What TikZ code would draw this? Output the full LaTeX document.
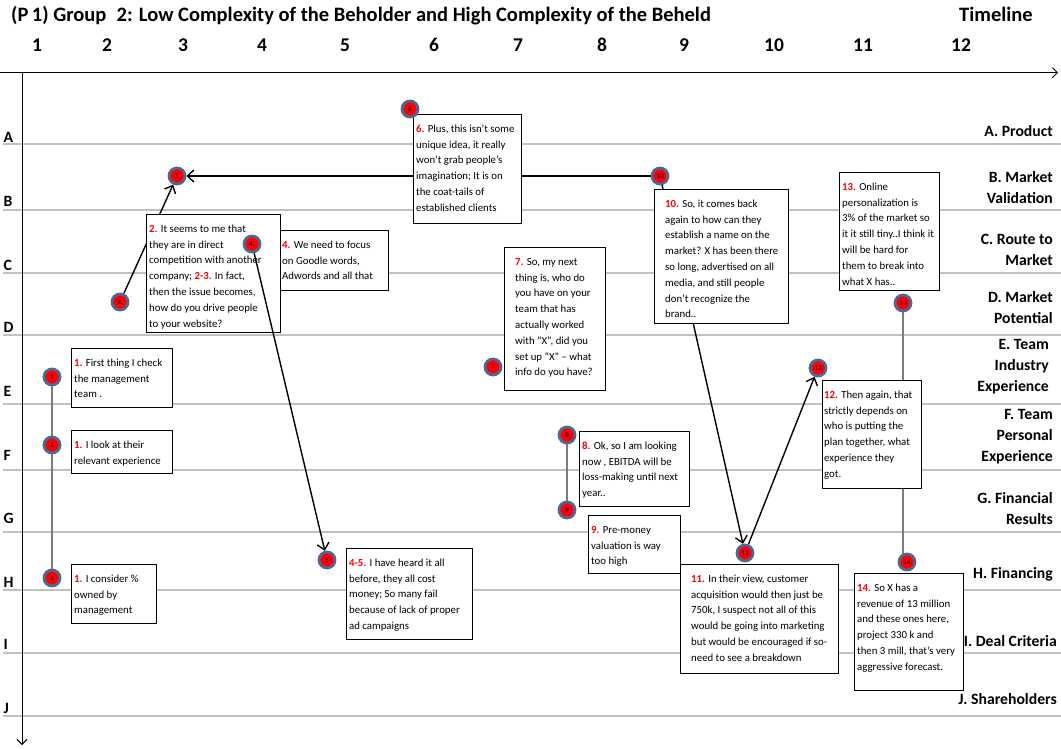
\documentclass[tikz,border=0pt]{standalone}
\usepackage{fontspec}
\setmainfont{Carlito}
\usetikzlibrary{arrows.meta}
\definecolor{ringblue}{RGB}{78,104,150}
\definecolor{rowgray}{RGB}{192,192,192}
\definecolor{linkgray}{RGB}{125,125,125}
\definecolor{numred}{RGB}{255,0,0}
\pgfdeclarelayer{bg}
\pgfdeclarelayer{rows}
\pgfdeclarelayer{boxes}
\pgfdeclarelayer{over}
\pgfsetlayers{bg,rows,boxes,over,main}
\newcommand{\rn}[1]{\textcolor{numred}{\bfseries #1}}
\newcommand{\tbox}[7]{%
  \node[tbx, minimum width=#4pt, minimum height=#5pt] (#1) at (#2,#3) {};
  \node[ttx] (#1t) at ([shift={(#6pt,-3pt)}]#1.north west) {\rule{0pt}{15pt}#7};}
\begin{document}
\begin{tikzpicture}[x=1pt,y=-1pt,
  tbx/.style={draw=black, line width=1.4pt, fill=white, anchor=north west, inner sep=0pt},
  ttx/.style={anchor=north west, align=left, inner sep=0pt, font=\fontsize{10.8}{15.8}\selectfont},
  dot/.style={circle, fill=numred, draw=ringblue, line width=2.8pt, minimum size=16pt, inner sep=0pt, font=\fontsize{7.5}{8}\selectfont},
  arr/.style={draw=black, line width=1.4pt, -{Straight Barb[length=6.5pt,width=12pt]}},
  link/.style={draw=linkgray, line width=1.3pt},
  rowline/.style={draw=rowgray, line width=1.5pt},
  axis/.style={draw=black, line width=0.9pt, -{Straight Barb[length=5pt,width=10pt]}},
  rowlbl/.style={anchor=west, font=\bfseries\fontsize{15.7}{18}\selectfont},
  catlbl/.style={anchor=east, align=right, inner sep=0pt, font=\bfseries\fontsize{15.7}{21}\selectfont},
  colnum/.style={anchor=base, font=\bfseries\fontsize{19.5}{20}\selectfont},
  ttl/.style={anchor=base west, inner sep=0pt, font=\bfseries\fontsize{20.5}{22}\selectfont}]
\useasboundingbox (0,0) rectangle (1061,748);
\begin{pgfonlayer}{bg}
\fill[white] (0,0) rectangle (1061,748);
\end{pgfonlayer}

% title and timeline
\node[ttl] (title) at (11,21) {(P\,1) Group\enspace 2: Low Complexity of the Beholder and High Complexity of the Beheld};
\node[ttl] (timeline) at (959,21) {Timeline};
\foreach \n/\x in {1/37,2/107,3/183,4/262,5/345,6/434,7/518,8/602,9/684,10/774,11/863,12/961}
  \node[colnum] (col\n) at (\x,51) {\n};

% axes
\coordinate (o) at (22,72.7);
\coordinate (hstart) at (0,72.7);
\coordinate (hend) at (1058,72.7);
\coordinate (vend) at (22,745);
\draw[axis] (hstart) -- (hend);
\draw[axis] (o) -- (vend);

% row letters
\foreach \l/\y in {A/137,B/201,C/265,D/327,E/391,F/455,G/518,H/582,I/644,J/708}
  \node[rowlbl] (row\l) at (0,\y) {\l};

% category labels
\node[catlbl] (catA) at (1053,131) {A. Product};
\node[catlbl] (catB) at (1053,188) {B. Market\\Validation};
\node[catlbl] (catC) at (1053,250) {C. Route to\\Market};
\node[catlbl] (catD) at (1053,308) {D. Market\\Potential};
\node[catlbl] (catE) at (1049,367) {E. Team\\Industry\\Experience};
\node[catlbl] (catF) at (1053,437) {F. Team\\Personal\\Experience};
\node[catlbl] (catG) at (1053,509) {G. Financial\\Results};
\node[catlbl] (catH) at (1053,574) {H. Financing};
\node[catlbl] (catI) at (1057,641) {I. Deal Criteria};
\node[catlbl] (catJ) at (1057,699) {J. Shareholders};

% circles
\node[dot] (c1a) at (52,377) {1};
\node[dot] (c1b) at (52,445) {1};
\node[dot] (c1c) at (52,578) {1};
\node[dot] (c2) at (120,302) {2.};
\node[dot] (c3) at (177,176) {3.};
\node[dot] (c4) at (252,244) {4.};
\node[dot] (c5) at (327,560) {5};
\node[dot] (c6) at (410,109) {6};
\node[dot] (c7) at (493,367) {7};
\node[dot] (c8) at (567,435) {8};
\node[dot] (c9) at (567,510) {9};
\node[dot] (c10) at (660,176) {10};
\node[dot] (c11) at (745,553) {11};
\node[dot] (c12) at (818,368) {12};
\node[dot] (c13) at (903,303) {13};
\node[dot] (c14) at (907,562) {14};

% row lines and connectors behind boxes
\begin{pgfonlayer}{rows}
\foreach \y in {144,210,273,335,404,470,532,590,653,716}
  \draw[rowline] (3,\y) -- (1061,\y);
\draw[arr] (c2) -- (c3);
\draw[arr] (c10) -- (c3);
\draw[arr] (c10) -- (c11);
\draw[link] (c13) -- (c13 |- c14);
\end{pgfonlayer}

% boxes
\begin{pgfonlayer}{boxes}
\tbox{b1a}{71}{348}{101}{59}{3}{\rn{1.} First thing I check\\the management\\team .}
\tbox{b1b}{71}{430}{101}{43}{3}{\rn{1.} I look at their\\relevant experience}
\tbox{b1c}{71}{564}{85}{59}{3}{\rn{1.} I consider \%\\owned by\\management}
\tbox{b2}{146}{214}{134}{118}{3}{\rn{2.} It seems to me that\\they are in direct\\competition with another\\company; \rn{2-3.} In fact,\\then the issue becomes,\\how do you drive people\\to your website?}
\tbox{b4}{280}{230}{108}{60}{2}{\rn{4.} We need to focus\\on Goodle words,\\Adwords and all that}
\tbox{b6}{413}{114}{108}{109}{3}{\rn{6.} Plus, this isn’t some\\unique idea, it really\\won’t grab people’s\\imagination; It is on\\the coat-tails of\\established clients}
\tbox{b7}{504}{247}{101}{143}{11}{\rn{7.} So, my next\\thing is, who do\\you have on your\\team that has\\actually worked\\with “X”, did you\\set up “X” – what\\info do you have?}
\tbox{b10}{654}{189}{134}{134}{11}{\rn{10.} So, it comes back\\again to how can they\\establish a name on the\\market? X has been there\\so long, advertised on all\\media, and still people\\don’t recognize the\\brand..}
\tbox{b13}{839}{172}{100}{118}{3}{\rn{13.} Online\\personalization is\\3\% of the market so\\it it still tiny..I think it\\will be hard for\\them to break into\\what X has..}
\tbox{b8}{579}{431}{110}{75}{3}{\rn{8.} Ok, so I am looking\\now , EBITDA will be\\loss-making until next\\year..}
\tbox{b9}{588}{515}{92}{58}{3}{\rn{9.} Pre-money\\valuation is way\\too high}
\tbox{b45}{346}{548}{126}{91}{3}{\rn{4-5.} I have heard it all\\before, they all cost\\money; So many fail\\because of lack of proper\\ad campaigns}
\tbox{b11}{680}{564}{158}{109}{11}{\rn{11.} In their view, customer\\acquisition would then just be\\750k, I suspect not all of this\\would be going into marketing\\but would be encouraged if so-\\need to see a breakdown}
\tbox{b12}{822}{380}{99}{108}{2}{\rn{12.} Then again, that\\strictly depends on\\who is putting the\\plan together, what\\experience they\\got.}
\tbox{b14}{854}{573}{109}{117}{3}{\rn{14.} So X has a\\revenue of 13 million\\and these ones here,\\project 330 k and\\then 3 mill, that’s very\\aggressive forecast.}
\end{pgfonlayer}

% connectors over boxes
\begin{pgfonlayer}{over}
\draw[arr] (c4) -- (c5);
\draw[arr] (c11) -- (c12);
\draw[link] (c1a) -- (c1b);
\draw[link] (c1b) -- (c1c);
\draw[link] (c8) -- (c9);
\end{pgfonlayer}
\end{tikzpicture}
\end{document}
